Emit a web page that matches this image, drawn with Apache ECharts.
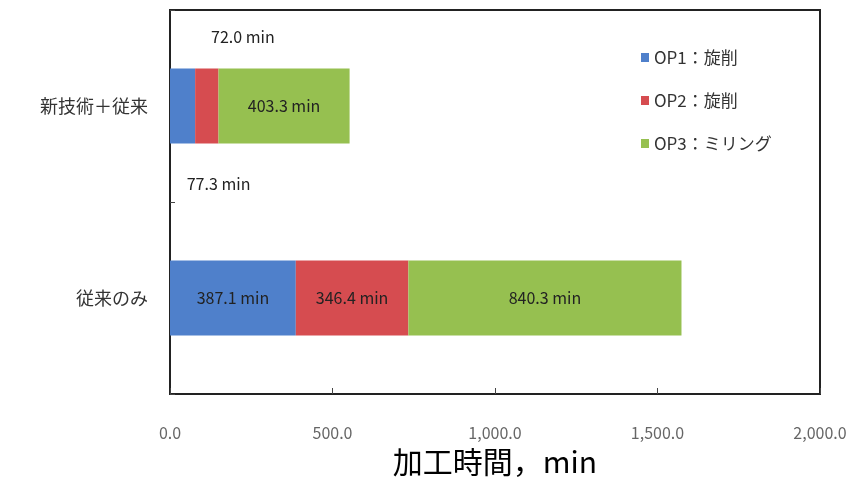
<!DOCTYPE html>
<html>
<head>
<meta charset="utf-8">
<script src="https://cdn.jsdelivr.net/npm/echarts@6/dist/echarts.min.js"></script>
<style>
  html, body { margin: 0; padding: 0; background: #fff; }
  #chart { width: 856px; height: 482px; }
</style>
</head>
<body>
<div id="chart"></div>
<script>
// Machining time per operation, minutes
const categories = ['新技術＋従来', '従来のみ'];
const seriesNames = ['OP1：旋削', 'OP2：旋削', 'OP3：ミリング'];
const op1 = [77.3, 387.1];
const op2 = [72.0, 346.4];
const op3 = [403.3, 840.3];
const xTicks = [0, 500, 1000, 1500, 2000];

const colors = ['#4f80cb', '#d64c50', '#96c050'];
const font = '"Noto Sans CJK JP", "Noto Sans", sans-serif';

function fmt(v) {
  return v.toLocaleString('en-US', { minimumFractionDigits: 1, maximumFractionDigits: 1 });
}

// Small segments of the upper bar carry their labels outside the bar
const outsideLabels = {
  0: { 0: { offset: [36, 78] } },
  1: { 0: { offset: [36, -69] } }
};

const values = [op1, op2, op3];
const series = values.map((vals, si) => ({
  name: seriesNames[si],
  type: 'bar',
  stack: 'total',
  barWidth: '39%',
  itemStyle: { color: colors[si] },
  label: {
    show: true,
    position: 'inside',
    formatter: p => fmt(p.value) + ' min',
    color: '#222',
    fontFamily: font,
    fontSize: 16
  },
  data: vals.map((v, ci) => {
    const o = outsideLabels[si] && outsideLabels[si][ci];
    return o ? { value: v, label: { offset: o.offset } } : v;
  })
}));

const chart = echarts.init(document.getElementById('chart'), null, { renderer: 'canvas' });
chart.setOption({
  animation: false,
  backgroundColor: '#fff',
  textStyle: { fontFamily: font },
  grid: {
    left: 170, right: 36, top: 10, bottom: 87,
    show: true, borderColor: '#222', borderWidth: 2, backgroundColor: 'transparent'
  },
  legend: {
    orient: 'vertical',
    left: 636, top: 44,
    itemWidth: 8, itemHeight: 9,
    itemGap: 26,
    icon: 'rect',
    textStyle: { fontFamily: font, fontSize: 17, color: '#333' },
    data: seriesNames
  },
  xAxis: {
    type: 'value',
    min: xTicks[0], max: xTicks[xTicks.length - 1],
    interval: xTicks[1] - xTicks[0],
    splitLine: { show: false },
    axisLine: { show: true, lineStyle: { color: '#222', width: 2 } },
    axisTick: { show: true, inside: true, length: 6, lineStyle: { color: '#444' } },
    axisLabel: {
      margin: 31,
      color: '#666',
      fontSize: 16,
      fontFamily: font,
      formatter: v => fmt(v)
    },
    name: '加工時間，min',
    nameLocation: 'middle',
    nameGap: 53,
    nameTextStyle: { fontSize: 30, color: '#000', fontFamily: font }
  },
  yAxis: {
    type: 'category',
    inverse: true,
    data: categories,
    axisLine: { show: true, lineStyle: { color: '#222', width: 2 } },
    axisTick: { show: true, inside: true, length: 5, lineStyle: { color: '#444' } },
    axisLabel: { margin: 22, color: '#333', fontSize: 18, fontFamily: font }
  },
  series: series
});
</script>
</body>
</html>
